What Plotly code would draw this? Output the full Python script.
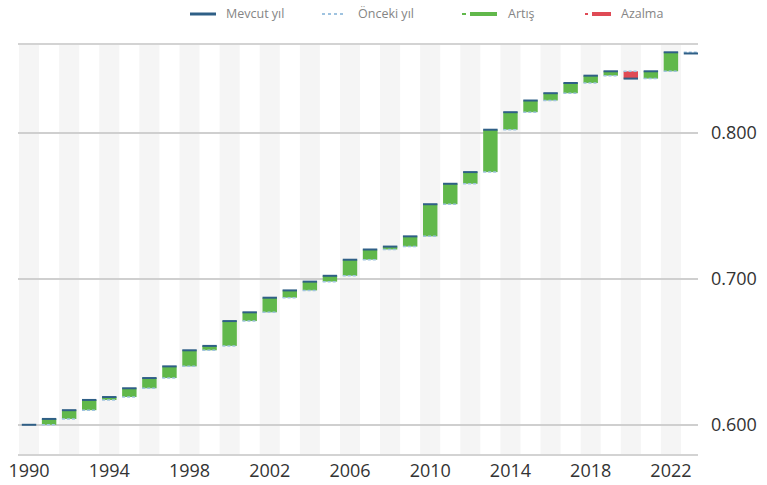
import plotly.graph_objects as go

# ---- data ----
years = list(range(1990, 2023))
hdi = [0.600, 0.604, 0.610, 0.617, 0.619, 0.625, 0.632, 0.640, 0.651, 0.654,
       0.671, 0.677, 0.687, 0.692, 0.698, 0.702, 0.713, 0.720, 0.722, 0.729,
       0.751, 0.765, 0.773, 0.802, 0.814, 0.822, 0.827, 0.834, 0.839, 0.842,
       0.837, 0.842, 0.855]
total_x = 2023  # closing "current" marker column
x_ticks = list(range(1990, 2023, 4))
y_ticks = [0.600, 0.700, 0.800]
legend_names = ["Mevcut yıl", "Önceki yıl", "Artış", "Azalma"]

GREEN = "#61b84b"
RED = "#df4a55"
BLUE = "#2f5f86"
LBLUE = "#9fc3e0"
HALF = 0.36

W, H = 767, 485
ML, MR, MT, MB = 18, 69, 45, 31
PW, PH = W - ML - MR, H - MT - MB


def px_to_paper(x, y):
    return (x - ML) / PW, (H - MB - y) / PH


deltas_x, deltas_y, deltas_base, deltas_col = [], [], [], []
for i in range(1, len(years)):
    d = hdi[i] - hdi[i - 1]
    deltas_x.append(years[i])
    deltas_y.append(d)
    deltas_base.append(hdi[i - 1])
    deltas_col.append(GREEN if d >= 0 else RED)

fig = go.Figure()

fig.add_trace(go.Bar(x=deltas_x, y=deltas_y, base=deltas_base,
                     marker=dict(color=deltas_col, line=dict(width=0)),
                     width=0.72, showlegend=False, hoverinfo="skip"))

# previous-year dashed markers
px, py = [], []
for i in range(1, len(years)):
    px += [years[i] - HALF, years[i] + HALF, None]
    py += [hdi[i - 1], hdi[i - 1], None]
px += [total_x - HALF, total_x + HALF, None]
py += [hdi[-1], hdi[-1], None]
fig.add_trace(go.Scatter(x=px, y=py, mode="lines",
                         line=dict(color=LBLUE, width=1.5, dash="3px,2px"),
                         showlegend=False, hoverinfo="skip"))

# current-year solid markers
cx, cy = [], []
for i in range(len(years)):
    cx += [years[i] - HALF, years[i] + HALF, None]
    cy += [hdi[i], hdi[i], None]
cx += [total_x - HALF, total_x + HALF, None]
cy += [hdi[-1] - 0.0008, hdi[-1] - 0.0008, None]
fig.add_trace(go.Scatter(x=cx, y=cy, mode="lines",
                         line=dict(color=BLUE, width=2),
                         showlegend=False, hoverinfo="skip"))

shapes = []
for yr in years + [total_x]:
    if (yr - years[0]) % 2 == 0:
        shapes.append(dict(type="rect", xref="x", yref="paper",
                           x0=yr - 0.5, x1=yr + 0.5, y0=0, y1=1,
                           fillcolor="#f5f5f5", line=dict(width=0), layer="below"))

# manual legend (symbol segments + labels), pixel positions from the reference
annotations = []
LEG_Y = 14
legend_items = [
    ([(190, 216, BLUE, 3, "solid")], 224, legend_names[0]),
    ([(322, 346, LBLUE, 2, "3px,3px")], 356, legend_names[1]),
    ([(462, 466, GREEN, 2, "solid"), (470, 497, GREEN, 4, "solid")], 506, legend_names[2]),
    ([(585, 588, RED, 2, "solid"), (592, 611, RED, 4, "solid")], 619, legend_names[3]),
]
for segs, tx, name in legend_items:
    for x0, x1, col, w, dash in segs:
        a, yy = px_to_paper(x0, LEG_Y)
        b, _ = px_to_paper(x1, LEG_Y)
        shapes.append(dict(type="line", xref="paper", yref="paper", x0=a, x1=b,
                           y0=yy, y1=yy, line=dict(color=col, width=w, dash=dash)))
    ax, ay = px_to_paper(tx, LEG_Y)
    annotations.append(dict(text=name, xref="paper", yref="paper", x=ax, y=ay,
                            xanchor="left", yanchor="middle", showarrow=False,
                            font=dict(size=12.5, color="#858585")))

fig.update_layout(
    width=W, height=H,
    margin=dict(l=ML, r=MR, t=MT, b=MB, autoexpand=False),
    paper_bgcolor="white", plot_bgcolor="white",
    font=dict(family="Open Sans", color="#333333"),
    shapes=shapes, annotations=annotations,
    showlegend=False,
)
fig.update_xaxes(range=[1989.45, 2023.35], tickmode="array", tickvals=x_ticks,
                 ticktext=[str(v) for v in x_ticks], tickfont=dict(size=18, color="#333333"),
                 showgrid=False, zeroline=False, showline=True, mirror=True,
                 linecolor="#d3d3d3", linewidth=1.5, ticks="", automargin=False)
fig.update_yaxes(range=[0.58, 0.86], side="right", tickmode="array", tickvals=y_ticks,
                 ticktext=[f"{v:.3f}" for v in y_ticks], tickfont=dict(size=18, color="#333333"),
                 showgrid=True, gridcolor="#cfcfcf", gridwidth=1.5, zeroline=False,
                 showline=False, ticklabelstandoff=12, automargin=False)

fig.write_html("out.html")
